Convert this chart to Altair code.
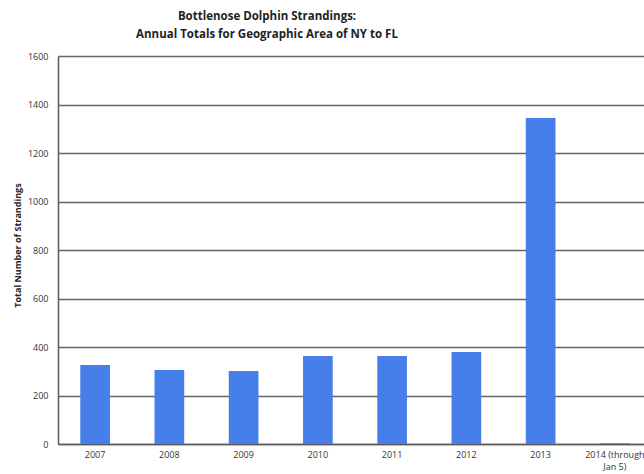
import altair as alt
import pandas as pd

years = ["2007", "2008", "2009", "2010", "2011", "2012", "2013", "2014 (through Jan 5)"]
totals = [326, 305, 301, 363, 363, 379, 1344, 3]

df = pd.DataFrame({"year": years, "total": totals})

bars = alt.Chart(df).mark_bar(color="#477FEA").encode(
    x=alt.X(
        "year:N",
        sort=years,
        title=None,
        scale=alt.Scale(range=[0, 594], paddingInner=0.6, paddingOuter=0.3),
        axis=alt.Axis(
            labelAngle=0,
            ticks=False,
            domain=True,
            domainColor="#5a5a5a",
            domainWidth=1.5,
            labelFont="Open Sans",
            labelFontSize=9,
            labelColor="#333333",
            labelPadding=6,
            labelLineHeight=12,
            labelExpr="datum.label == '2014 (through Jan 5)' ? ['2014 (through', 'Jan 5)'] : datum.label",
        ),
    ),
    y=alt.Y(
        "total:Q",
        scale=alt.Scale(domain=[0, 1600], nice=False),
        title="Total Number of Strandings",
        axis=alt.Axis(
            values=[0, 200, 400, 600, 800, 1000, 1200, 1400, 1600],
            format="d",
            grid=True,
            gridColor="#666666",
            gridWidth=1.5,
            ticks=False,
            domain=True,
            domainColor="#5a5a5a",
            domainWidth=1.5,
            labelFont="Open Sans",
            labelFontSize=9,
            labelColor="#333333",
            labelPadding=10,
            titleFont="Open Sans",
            titleFontSize=9,
            titleFontWeight="bold",
            titleColor="#222222",
            titleX=-41,
            titleY=189,
            titleAngle=-90,
            titleBaseline="middle",
            titleAlign="center",
        ),
    ),
).properties(
    width=586,
    height=388,
    title=alt.TitleParams(
        text=["Bottlenose Dolphin Strandings:", "Annual Totals for Geographic Area of NY to FL"],
        font="Open Sans",
        fontSize=11.5,
        fontWeight="bold",
        color="#222222",
        lineHeight=18,
        anchor="middle",
        frame="group",
        dx=-84,
        offset=12,
    ),
    autosize=alt.AutoSizeParams(type="none"),
    padding={"left": 58, "top": 56, "right": 0, "bottom": 30},
).configure_view(stroke=None).configure(background="white")

chart = bars
chart.save("out.html", embed_options={"renderer": "svg", "actions": False})
